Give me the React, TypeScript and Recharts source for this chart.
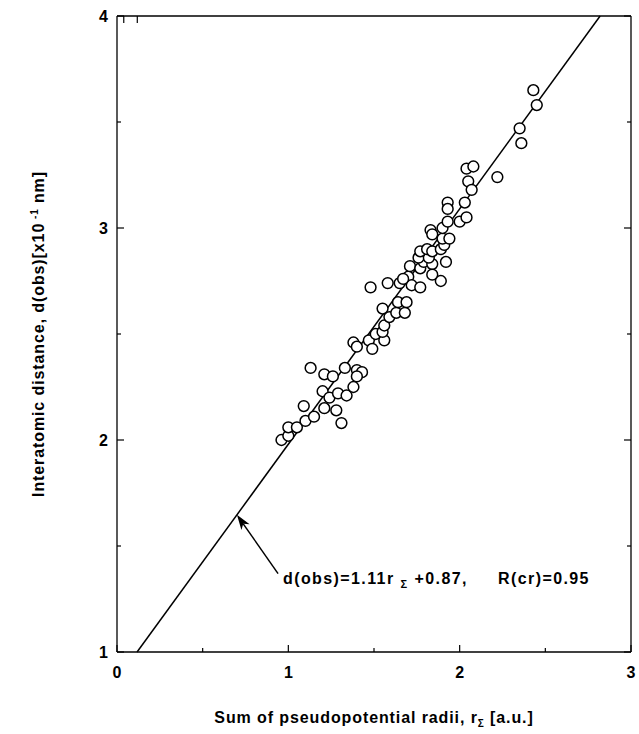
import { ComposedChart, Scatter, XAxis, YAxis, ReferenceLine, Label } from "recharts";

// pseudopotential radii sum r_Σ [a.u.] and observed distance d(obs) [x10^-1 nm]
const R_SUM = [
  0.96, 1.0, 1.0, 1.05, 1.09, 1.1, 1.15, 1.21, 1.28, 1.31,
  1.2, 1.24, 1.29, 1.34, 1.38, 1.13, 1.21, 1.26, 1.33, 1.4,
  1.43, 1.4, 1.38, 1.4, 1.47, 1.49, 1.51, 1.56, 1.55, 1.56,
  1.59, 1.55, 1.63, 1.68, 1.64, 1.69, 1.48, 1.58, 1.65, 1.7,
  1.72, 1.77, 1.67, 1.71, 1.77, 1.79, 1.84, 1.84, 1.92, 1.76,
  1.82, 1.77, 1.81, 1.84, 1.89, 1.91, 1.9, 1.94, 1.83, 1.84,
  1.9, 1.93, 2.0, 2.04, 1.93, 1.93, 2.03, 2.05, 2.07, 2.04,
  2.08, 2.22, 2.35, 2.36, 2.43, 2.45, 1.89,
];
const D_OBS = [
  2.0, 2.02, 2.06, 2.06, 2.16, 2.09, 2.11, 2.15, 2.14, 2.08,
  2.23, 2.2, 2.22, 2.21, 2.25, 2.34, 2.31, 2.3, 2.34, 2.33,
  2.32, 2.3, 2.46, 2.44, 2.47, 2.43, 2.5, 2.47, 2.51, 2.54,
  2.58, 2.62, 2.6, 2.6, 2.65, 2.65, 2.72, 2.74, 2.74, 2.77,
  2.73, 2.72, 2.76, 2.82, 2.81, 2.84, 2.83, 2.78, 2.84, 2.86,
  2.86, 2.89, 2.9, 2.89, 2.9, 2.92, 2.95, 2.95, 2.99, 2.97,
  3.0, 3.03, 3.03, 3.05, 3.12, 3.09, 3.12, 3.22, 3.18, 3.28,
  3.29, 3.24, 3.47, 3.4, 3.65, 3.58, 2.75,
];

const X_DOMAIN = [0, 3];
const Y_DOMAIN = [1, 4];
const X_TICKS = [0, 0.5, 1, 1.5, 2, 2.5, 3];
const Y_TICKS = [1, 1.5, 2, 2.5, 3, 3.5, 4];

// d(obs) = 1.11 r + 0.87
const FIT_SLOPE = 1.11;
const FIT_INTERCEPT = 0.87;
const ARROW_TAIL = { x: 0.94, y: 1.37 };
const ARROW_HEAD_R = 0.7;

const FONT = "'Liberation Sans', Arial, Helvetica, sans-serif";

const data = R_SUM.map((r, i) => ({ r, d: D_OBS[i] }));

const fitAt = (d: number) => (d - FIT_INTERCEPT) / FIT_SLOPE;

const BottomTick = ({ x, y, payload }: any) => {
  const v = payload.value;
  const major = Number.isInteger(v);
  return (
    <g>
      <line x1={x} x2={x} y1={y} y2={y - (major ? 7 : 4)} stroke="#000" strokeWidth={1.2} />
      {major && (
        <text x={x} y={y + 26} textAnchor="middle" fontSize={16} fontWeight="bold" fontFamily={FONT} fill="#000">
          {v}
        </text>
      )}
    </g>
  );
};

const LeftTick = ({ x, y, payload }: any) => {
  const v = payload.value;
  const major = Number.isInteger(v);
  return (
    <g>
      <line x1={x} x2={x + (major ? 7 : 4)} y1={y} y2={y} stroke="#000" strokeWidth={1.2} />
      {major && (
        <text x={x - 9} y={y + 6} textAnchor="end" fontSize={16} fontWeight="bold" fontFamily={FONT} fill="#000">
          {v}
        </text>
      )}
    </g>
  );
};

const TopTick = ({ x, y, payload }: any) => {
  const major = Number.isInteger(payload.value);
  return <line x1={x} x2={x} y1={y} y2={y + (major ? 7 : 4)} stroke="#000" strokeWidth={1.2} />;
};

const RightTick = ({ x, y, payload }: any) => {
  const major = Number.isInteger(payload.value);
  return <line x1={x} x2={x - (major ? 7 : 4)} y1={y} y2={y} stroke="#000" strokeWidth={1.2} />;
};

const Dot = ({ cx, cy }: any) => (
  <circle cx={cx} cy={cy} r={5.4} fill="#fff" stroke="#000" strokeWidth={1.5} />
);

const Arrow = ({ x1, y1, x2, y2 }: any) => {
  const ang = Math.atan2(y2 - y1, x2 - x1);
  const len = 15;
  const w = 5;
  const bx = x2 - len * Math.cos(ang);
  const by = y2 - len * Math.sin(ang);
  const nx = x2 - (len - 4) * Math.cos(ang);
  const ny = y2 - (len - 4) * Math.sin(ang);
  const px = -Math.sin(ang) * w;
  const py = Math.cos(ang) * w;
  return (
    <g>
      <line x1={x1} y1={y1} x2={nx} y2={ny} stroke="#000" strokeWidth={1.5} />
      <polygon points={`${x2},${y2} ${bx + px},${by + py} ${nx},${ny} ${bx - px},${by - py}`} fill="#000" />
      <text x={x1 + 5} y={y1 + 10} fontSize={16} fontWeight="bold" fontFamily={FONT} fill="#000" letterSpacing={1.4}>
        d(obs)=1.11r
        <tspan fontSize={11} dx={6} dy={4}>Σ</tspan>
        <tspan dx={6} dy={-4}>+0.87,</tspan>
        <tspan x={x1 + 220}>R(cr)=0.95</tspan>
      </text>
    </g>
  );
};

const XTitle = ({ viewBox }: any) => {
  const cx = viewBox.x + viewBox.width / 2;
  return (
    <text x={cx} y={viewBox.y + 71} textAnchor="middle" fontSize={16} fontWeight="bold" fontFamily={FONT} fill="#000" letterSpacing={0.9}>
      Sum of pseudopotential radii, r
      <tspan fontSize={10} dy={4}>Σ</tspan>
      <tspan dy={-4}> [a.u.]</tspan>
    </text>
  );
};

const YTitle = () => {
  const cx = 44;
  const cy = 334;
  return (
    <text x={cx} y={cy} transform={`rotate(-90 ${cx} ${cy})`} textAnchor="middle" fontSize={16} fontWeight="bold" fontFamily={FONT} fill="#000" letterSpacing={0.9}>
      Interatomic distance, d(obs)[x10
      <tspan fontSize={10} dy={-6}> -1</tspan>
      <tspan dy={6}> nm]</tspan>
    </text>
  );
};

export default function App() {
  return (
    <div style={{ position: "absolute", left: 0, top: 0, background: "#fff" }}>
      <ComposedChart width={639} height={734} data={data} margin={{ top: 0, right: 0, bottom: 0, left: 0 }}>
        <XAxis
          xAxisId="bottom"
          dataKey="r"
          type="number"
          domain={X_DOMAIN}
          ticks={X_TICKS}
          allowDataOverflow
          height={82}
          tickSize={0}
          tickMargin={0}
          tickLine={false}
          tick={<BottomTick />}
          axisLine={{ stroke: "#000", strokeWidth: 1.3 }}
        >
          <Label content={<XTitle />} />
        </XAxis>
        <XAxis
          xAxisId="top"
          orientation="top"
          type="number"
          domain={X_DOMAIN}
          ticks={X_TICKS}
          allowDataOverflow
          height={16}
          tickSize={0}
          tickMargin={0}
          tickLine={false}
          tick={<TopTick />}
          axisLine={{ stroke: "#000", strokeWidth: 1.3 }}
        />
        <YAxis
          yAxisId="left"
          dataKey="d"
          type="number"
          domain={Y_DOMAIN}
          ticks={Y_TICKS}
          allowDataOverflow
          width={117}
          tickSize={0}
          tickMargin={0}
          tickLine={false}
          tick={<LeftTick />}
          axisLine={{ stroke: "#000", strokeWidth: 1.3 }}
        >
          <Label content={<YTitle />} />
        </YAxis>
        <YAxis
          yAxisId="right"
          orientation="right"
          type="number"
          domain={Y_DOMAIN}
          ticks={Y_TICKS}
          allowDataOverflow
          width={8}
          tickSize={0}
          tickMargin={0}
          tickLine={false}
          tick={<RightTick />}
          axisLine={{ stroke: "#000", strokeWidth: 1.3 }}
        />
        <Scatter
          xAxisId="bottom"
          yAxisId="left"
          data={data}
          dataKey="d"
          shape={<Dot />}
          isAnimationActive={false}
        />
        <ReferenceLine
          xAxisId="bottom"
          yAxisId="left"
          segment={[
            { x: fitAt(Y_DOMAIN[0]), y: Y_DOMAIN[0] },
            { x: fitAt(Y_DOMAIN[1]), y: Y_DOMAIN[1] },
          ]}
          stroke="#000"
          strokeWidth={1.5}
        />
        <ReferenceLine
          xAxisId="bottom"
          yAxisId="left"
          segment={[
            ARROW_TAIL,
            { x: ARROW_HEAD_R, y: FIT_SLOPE * ARROW_HEAD_R + FIT_INTERCEPT },
          ]}
          shape={<Arrow />}
        />
      </ComposedChart>
    </div>
  );
}
